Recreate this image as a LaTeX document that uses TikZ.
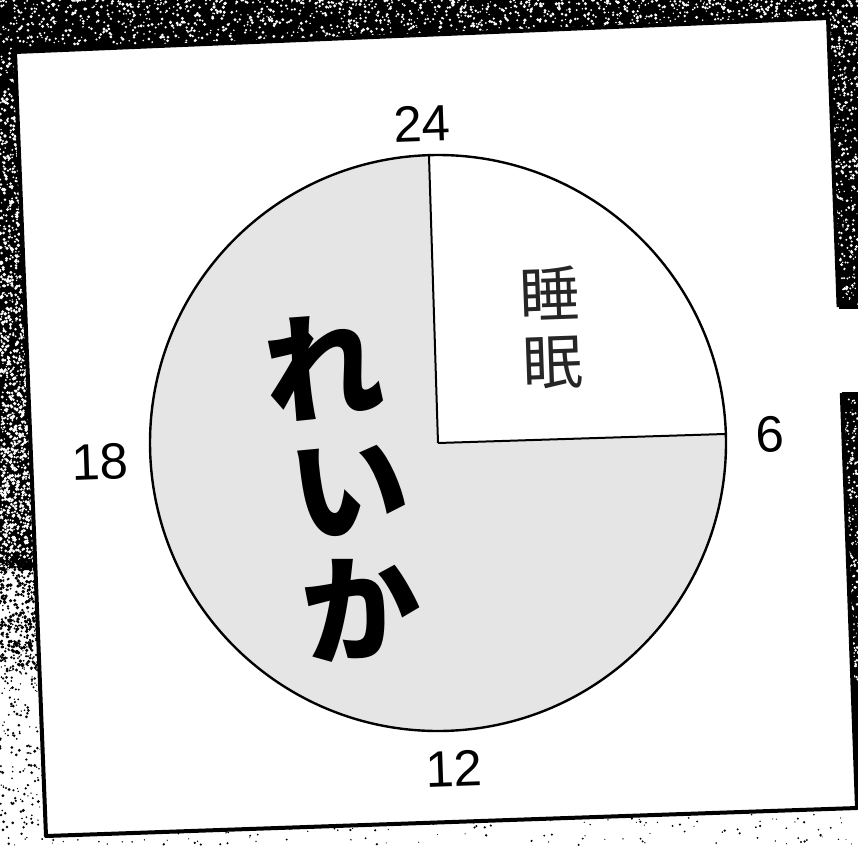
\documentclass[tikz,border=0pt]{standalone}
\usepackage{fontspec}
\setmainfont{Liberation Sans}
\newfontfamily\cjk{Noto Sans CJK JP}
\tikzset{
  num/.style={inner sep=0pt, font=\fontsize{51}{51}\selectfont, rotate=2},
  sleeptxt/.style={inner sep=0pt, align=center, text=black!85, font=\cjk\fontsize{60}{68}\selectfont, rotate=2},
  namechar/.style={inner sep=0pt, font=\cjk\bfseries\fontsize{118}{118}\selectfont, rotate=6},
  panelline/.style={line width=4pt, line join=round},
}
\begin{document}
\begin{tikzpicture}[x=1pt,y=-1pt]
\useasboundingbox (0,0) rectangle (858,845);
\fill[white] (0,0) rectangle (858,845);
% panel corners
\coordinate (TL) at (15,52);
\coordinate (TR) at (828,18);
\coordinate (BR) at (857,808);
\coordinate (BL) at (46,836);
\coordinate (R1) at (838.6,307);
\coordinate (R2) at (841.8,393);
% screentone: top band and upper right strip
\fill[black] (0,0) -- (858,0) -- (858,307) -- (R1) -- (TR) -- (TL) -- (0,52) -- cycle;
% lower right strip
\fill[black] (R2) -- (858,393) -- (858,808) -- (BR) -- cycle;
% left band, dark part
\fill[black] (0,0) -- (15,0) -- (TL) -- (36,570) -- (0,570) -- cycle;
\pgfmathsetseed{7}
\foreach \i in {1,...,1500} {
  \fill[white] ({858*rnd},{44*rnd^1.3}) circle ({0.7+1.0*rnd});
}
\foreach \i in {1,...,420} {
  \fill[white] ({830+28*rnd},{10+295*rnd}) circle ({0.6+1.0*rnd});
}
\foreach \i in {1,...,230} {
  \fill[white] ({844+14*rnd},{398+290*rnd}) circle ({0.6+0.9*rnd});
}
% left band: white specks, denser lower down
\foreach \i in {1,...,1500} {
  \fill[white] ({36*rnd},{40+530*rnd^0.7}) circle ({0.7+1.2*rnd});
}
% transition zone: black dots, dense near the top
\foreach \i in {1,...,380} {
  \fill[black] ({40*rnd},{560+110*rnd^1.6}) circle ({0.8+1.2*rnd});
}
% left band, light part with black dots
\foreach \i in {1,...,300} {
  \fill[black] ({44*rnd},{620+225*rnd^1.5}) circle ({0.6+1.0*rnd});
}
% bottom strip dots
\foreach \i in {1,...,140} {
  \fill[black] ({40+818*rnd},{814+31*rnd}) circle ({0.5+0.8*rnd});
}
% panel
\fill[white] (TL) -- (TR) -- (R1) -- (858,307) -- (858,393) -- (R2) -- (BR) -- (BL) -- cycle;
\draw[panelline] (R1) -- (TR) -- (TL) -- (BL) -- (BR) -- (R2);
\draw[line width=3pt] (R1) -- (858,307);
\draw[line width=3pt] (R2) -- (858,393);
\draw[line width=3pt] (BR) -- (858,807.5);
% pie chart
\begin{scope}[shift={(438,443)}, rotate=1.8]
  \coordinate (c) at (0,0);
  \coordinate (top) at (270:288);
  \coordinate (right) at (0:288);
  \fill[black!10] (c) circle (288);
  \fill[white] (c) -- (top) arc[start angle=270, end angle=360, radius=288] -- cycle;
  \draw[line width=2pt] (c) -- (top);
  \draw[line width=2pt] (c) -- (right);
  \draw[line width=2.4pt] (c) circle (288);
\end{scope}
% hour labels
\node[num] (l24) at (422,124) {24};
\node[num] (l6) at (770,434) {6};
\node[num] (l12) at (454,769) {12};
\node[num] (l18) at (100,462) {18};
% texts
\node[sleeptxt] (sleep) at (551,328) {睡\\眠};
\node[namechar] (re) at (323,367) {れ};
\node[namechar] (i) at (350,490) {い};
\node[namechar] (ka) at (361,608) {か};
\end{tikzpicture}
\end{document}
